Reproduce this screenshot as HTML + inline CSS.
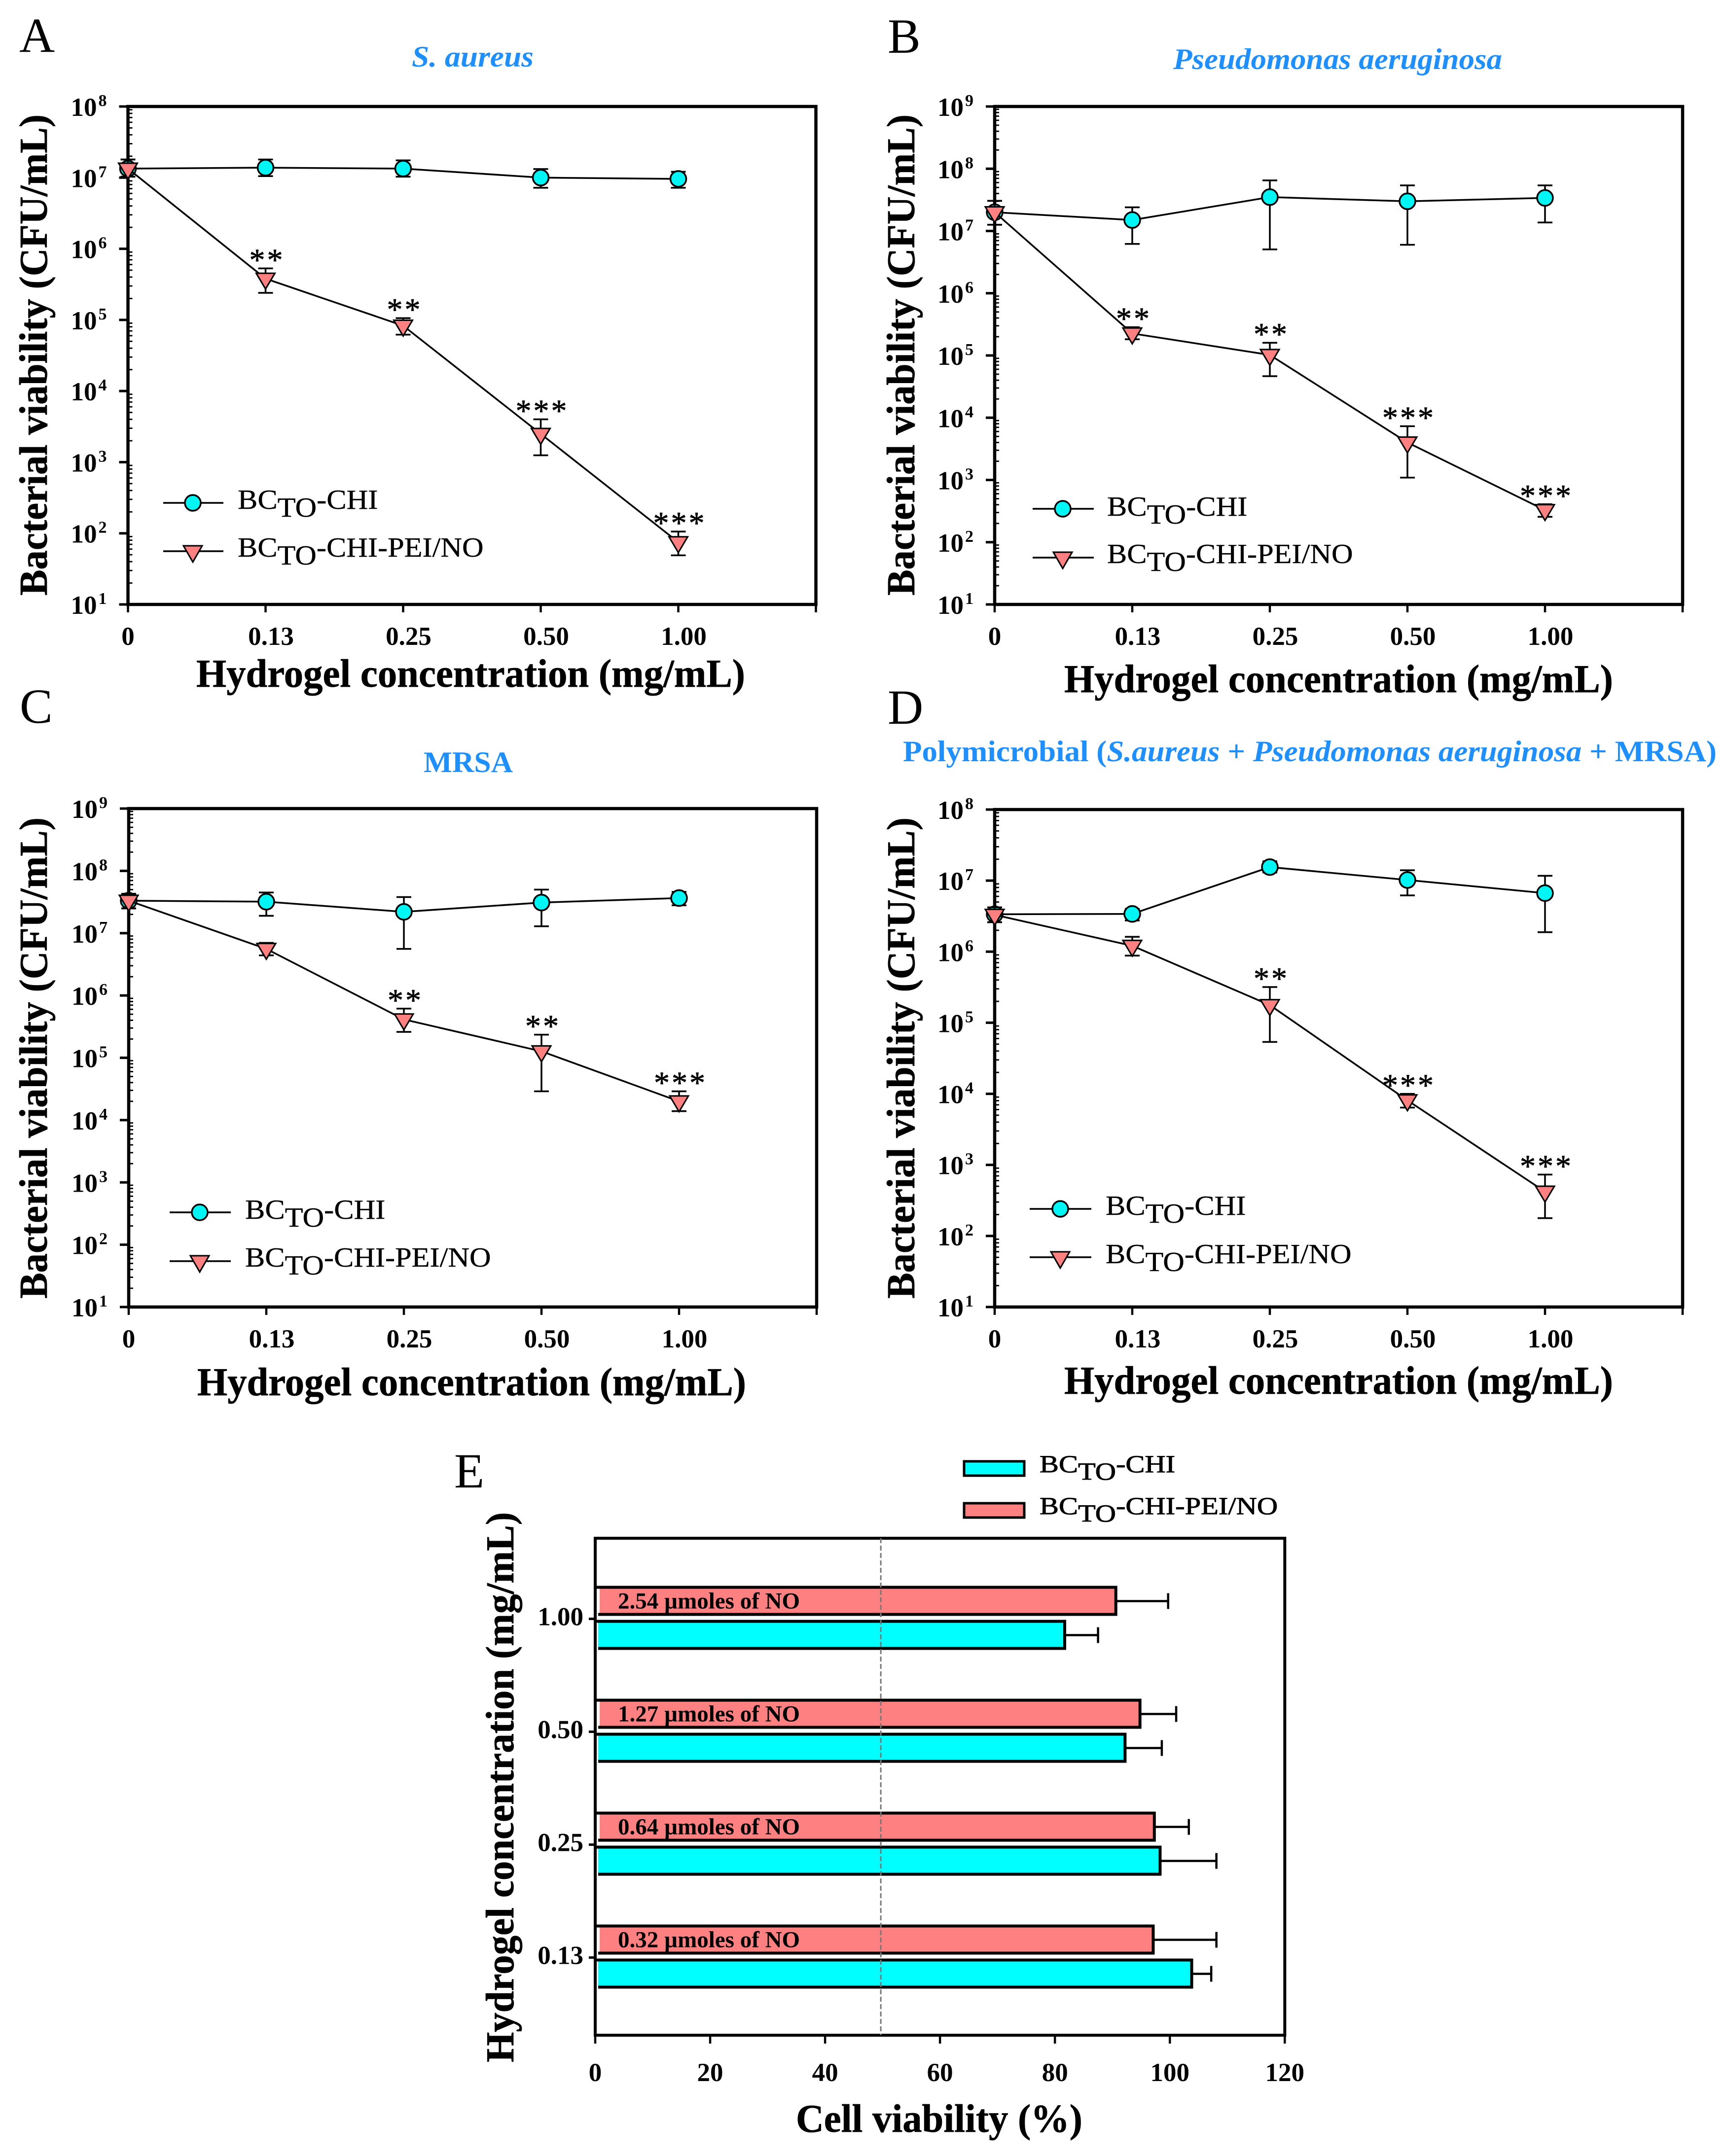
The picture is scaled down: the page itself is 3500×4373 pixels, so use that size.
<!DOCTYPE html>
<html lang="en">
<head>
<meta charset="utf-8">
<title>Bacterial and cell viability of hydrogels</title>
<style>
html,body{margin:0;padding:0;background:#fff}
svg{display:block}
text{font-family:"Liberation Serif","DejaVu Serif",serif;fill:#000}
.letter{font-size:100px}
.ptitle{font-size:60px;font-weight:bold;fill:#1e8fff}
.atitle{font-size:80px;font-weight:bold;stroke:#000;stroke-width:.7px}
.leg{font-size:56px;stroke:#000;stroke-width:.4px}
.legE{font-size:50px;stroke:#000;stroke-width:.9px}
.tick{font-size:53px;font-weight:bold}
.sup{font-size:34px;font-weight:bold}
.star{font-size:64px;letter-spacing:4px;stroke:#000;stroke-width:.8px}
.note{font-size:47px;font-weight:bold}
</style>
</head>
<body>
<svg id="fig" width="3500" height="4373" viewBox="0 0 3500 4373" xmlns="http://www.w3.org/2000/svg">
<rect width="3500" height="4373" fill="#fff"/>

<text class="letter" x="39" y="105">A</text>
<text class="letter" x="1800" y="107">B</text>
<text class="letter" x="40" y="1466">C</text>
<text class="letter" x="1800" y="1468">D</text>
<text class="letter" x="921" y="3017">E</text>

<text class="ptitle" x="835" y="135" textLength="247" lengthAdjust="spacingAndGlyphs" font-style="italic">S. aureus</text>
<text class="ptitle" x="2379" y="140" textLength="667" lengthAdjust="spacingAndGlyphs" font-style="italic">Pseudomonas aeruginosa</text>
<text class="ptitle" x="859" y="1566" textLength="181" lengthAdjust="spacingAndGlyphs">MRSA</text>
<text class="ptitle" x="1831" y="1544" textLength="1650" lengthAdjust="spacingAndGlyphs">Polymicrobial (<tspan font-style="italic">S.aureus</tspan> + <tspan font-style="italic">Pseudomonas aeruginosa</tspan> + MRSA)</text>

<text class="atitle" transform="translate(95,720) rotate(-90)" text-anchor="middle" textLength="976" lengthAdjust="spacingAndGlyphs">Bacterial viability (CFU/mL)</text>
<text class="atitle" transform="translate(1854,720) rotate(-90)" text-anchor="middle" textLength="976" lengthAdjust="spacingAndGlyphs">Bacterial viability (CFU/mL)</text>
<text class="atitle" transform="translate(95,2146) rotate(-90)" text-anchor="middle" textLength="976" lengthAdjust="spacingAndGlyphs">Bacterial viability (CFU/mL)</text>
<text class="atitle" transform="translate(1854,2146) rotate(-90)" text-anchor="middle" textLength="976" lengthAdjust="spacingAndGlyphs">Bacterial viability (CFU/mL)</text>
<text class="atitle" transform="translate(1041,3625) rotate(-90)" text-anchor="middle" textLength="1116" lengthAdjust="spacingAndGlyphs">Hydrogel concentration (mg/mL)</text>

<text class="atitle" x="398" y="1393" textLength="1113" lengthAdjust="spacingAndGlyphs">Hydrogel concentration (mg/mL)</text>
<text class="atitle" x="2158" y="1404" textLength="1113" lengthAdjust="spacingAndGlyphs">Hydrogel concentration (mg/mL)</text>
<text class="atitle" x="400" y="2830" textLength="1113" lengthAdjust="spacingAndGlyphs">Hydrogel concentration (mg/mL)</text>
<text class="atitle" x="2158" y="2827" textLength="1113" lengthAdjust="spacingAndGlyphs">Hydrogel concentration (mg/mL)</text>
<text class="atitle" x="1614" y="4324" textLength="581" lengthAdjust="spacingAndGlyphs">Cell viability (%)</text>

<!-- legend A -->
<g stroke="#000">
  <line x1="331" x2="453" y1="1020" y2="1020" stroke-width="3.5"/>
  <circle cx="391" cy="1020" r="16" fill="#00f5f5" stroke-width="3.5"/>
  <line x1="331" x2="453" y1="1118" y2="1118" stroke-width="3.5"/>
  <path d="M372,1107H410L391,1140Z" fill="#ff8080" stroke-width="3"/>
</g>
<text class="leg" transform="translate(482,1032) scale(1.08,1)">BC<tspan dy="16">TO</tspan><tspan dy="-16">-CHI</tspan></text>
<text class="leg" transform="translate(482,1129) scale(1.078,1)">BC<tspan dy="16">TO</tspan><tspan dy="-16">-CHI-PEI/NO</tspan></text>

<!-- legend B -->
<g stroke="#000">
  <line x1="2094" x2="2218" y1="1032" y2="1032" stroke-width="3.5"/>
  <circle cx="2155" cy="1032" r="16" fill="#00f5f5" stroke-width="3.5"/>
  <line x1="2094" x2="2218" y1="1131" y2="1131" stroke-width="3.5"/>
  <path d="M2136,1120H2174L2155,1153Z" fill="#ff8080" stroke-width="3"/>
</g>
<text class="leg" transform="translate(2245,1046) scale(1.08,1)">BC<tspan dy="16">TO</tspan><tspan dy="-16">-CHI</tspan></text>
<text class="leg" transform="translate(2245,1142) scale(1.078,1)">BC<tspan dy="16">TO</tspan><tspan dy="-16">-CHI-PEI/NO</tspan></text>

<!-- legend C -->
<g stroke="#000">
  <line x1="344" x2="468" y1="2459" y2="2459" stroke-width="3.5"/>
  <circle cx="405" cy="2459" r="16" fill="#00f5f5" stroke-width="3.5"/>
  <line x1="344" x2="468" y1="2558" y2="2558" stroke-width="3.5"/>
  <path d="M386,2547H424L405,2580Z" fill="#ff8080" stroke-width="3"/>
</g>
<text class="leg" transform="translate(497,2472) scale(1.08,1)">BC<tspan dy="16">TO</tspan><tspan dy="-16">-CHI</tspan></text>
<text class="leg" transform="translate(497,2569) scale(1.078,1)">BC<tspan dy="16">TO</tspan><tspan dy="-16">-CHI-PEI/NO</tspan></text>

<!-- legend D -->
<g stroke="#000">
  <line x1="2088" x2="2213" y1="2452" y2="2452" stroke-width="3.5"/>
  <circle cx="2150" cy="2452" r="16" fill="#00f5f5" stroke-width="3.5"/>
  <line x1="2088" x2="2213" y1="2550" y2="2550" stroke-width="3.5"/>
  <path d="M2131,2539H2169L2150,2572Z" fill="#ff8080" stroke-width="3"/>
</g>
<text class="leg" transform="translate(2242,2464) scale(1.08,1)">BC<tspan dy="16">TO</tspan><tspan dy="-16">-CHI</tspan></text>
<text class="leg" transform="translate(2242,2562) scale(1.078,1)">BC<tspan dy="16">TO</tspan><tspan dy="-16">-CHI-PEI/NO</tspan></text>

<!-- legend E -->
<rect x="1955" y="2964" width="122" height="29" fill="#00ffff" stroke="#000" stroke-width="5"/>
<rect x="1955" y="3049" width="122" height="29" fill="#ff8080" stroke="#000" stroke-width="5"/>
<text class="legE" transform="translate(2108,2986) scale(1.17,1)">BC<tspan dy="15">TO</tspan><tspan dy="-15">-CHI</tspan></text>
<text class="legE" transform="translate(2108,3071) scale(1.17,1)">BC<tspan dy="15">TO</tspan><tspan dy="-15">-CHI-PEI/NO</tspan></text>

<g id="plots"></g>
</svg>

<script>
// ---------- shared labels ----------
const xTickLabels = ['0', '0.13', '0.25', '0.50', '1.00'];

// ---------- Panel A: S. aureus ----------
const aExponents = [1, 2, 3, 4, 5, 6, 7, 8];
const aChi   = [1.34e7, 1.38e7, 1.34e7, 1.0e7, 9.6e6];
const aChiHi = [1.8e7, 1.8e7, 1.75e7, 1.32e7, 1.21e7];
const aChiLo = [1.03e7, 1.05e7, 1.03e7, 7.2e6, 7.2e6];
const aPei   = [1.34e7, 3.8e5, 8.3e4, 2.5e3, 75];
const aPeiHi = [1.8e7, 5.3e5, 1.06e5, 4.0e3, 106];
const aPeiLo = [1.03e7, 2.4e5, 6.2e4, 1.25e3, 49];
const aStars = ['', '**', '**', '***', '***'];

// ---------- Panel B: Pseudomonas aeruginosa ----------
const bExponents = [1, 2, 3, 4, 5, 6, 7, 8, 9];
const bChi   = [2.0e7, 1.5e7, 3.5e7, 3.0e7, 3.4e7];
const bChiHi = [3.05e7, 2.4e7, 6.5e7, 5.4e7, 5.4e7];
const bChiLo = [1.26e7, 6.2e6, 5.06e6, 6.0e6, 1.37e7];
const bPei   = [2.0e7, 2.26e5, 1.02e5, 4.0e3, 328];
const bPeiHi = [3.05e7, 2.85e5, 1.6e5, 7.3e3, 407];
const bPeiLo = [1.26e7, 1.82e5, 4.65e4, 1.09e3, 256];
const bStars = ['', '**', '**', '***', '***'];

// ---------- Panel C: MRSA ----------
const cExponents = [1, 2, 3, 4, 5, 6, 7, 8, 9];
const cChi   = [3.32e7, 3.2e7, 2.2e7, 3.1e7, 3.66e7];
const cChiHi = [4.3e7, 4.5e7, 3.8e7, 5.0e7, 4.6e7];
const cChiLo = [2.5e7, 1.9e7, 5.6e6, 1.29e7, 2.8e7];
const cPei   = [3.32e7, 5.6e6, 4.13e5, 1.27e5, 2.0e4];
const cPeiHi = [4.3e7, 7.0e6, 6.15e5, 2.35e5, 2.9e4];
const cPeiLo = [2.5e7, 4.4e6, 2.6e5, 2.9e4, 1.39e4];
const cStars = ['', '', '**', '**', '***'];

// ---------- Panel D: Polymicrobial ----------
const dExponents = [1, 2, 3, 4, 5, 6, 7, 8];
const dChi   = [3.36e6, 3.4e6, 1.55e7, 1.02e7, 6.67e6];
const dChiHi = [4.2e6, 4.0e6, 1.87e7, 1.4e7, 1.17e7];
const dChiLo = [2.6e6, 2.75e6, 1.3e7, 6.2e6, 1.88e6];
const dPei   = [3.3e6, 1.21e6, 1.77e5, 8.1e3, 420];
const dPeiHi = [4.2e6, 1.62e6, 3.18e5, 1.0e4, 731];
const dPeiLo = [2.6e6, 8.8e5, 5.37e4, 6.4e3, 178];
const dStars = ['', '', '**', '***', '***'];

// ---------- Panel E: cell viability ----------
const eCategories = ['0.13', '0.25', '0.50', '1.00'];
const eXTicks = [0, 20, 40, 60, 80, 100, 120];
const eChi    = [103.8, 98.3, 92.2, 81.7];
const eChiErr = [107.2, 108.1, 98.6, 87.5];
const ePei    = [97.1, 97.3, 94.8, 90.6];
const ePeiErr = [108.1, 103.3, 101.1, 99.7];
const eNotes  = ['0.32 µmoles of NO', '0.64 µmoles of NO', '1.27 µmoles of NO', '2.54 µmoles of NO'];
const eThreshold = 49.7;

const NS = 'http://www.w3.org/2000/svg';
const root = document.getElementById('plots');

function make(tag, attrs, parent) {
  const el = document.createElementNS(NS, tag);
  for (const k in attrs) el.setAttribute(k, attrs[k]);
  parent.appendChild(el);
  return el;
}

function drawSeries(g, prefix, xs, vals, hi, lo, isTriangle, yOf) {
  const s = make('g', {}, g);
  
  
  const line = make('polyline', {
    points: vals.map((v, i) => xs(i) + ',' + yOf(v)).join(' '),
    fill: 'none', stroke: '#000', 'stroke-width': 3.5
  }, s);
  
  
  vals.forEach((v, i) => {
    const x = xs(i);
    const err = make('path', {
      d: 'M' + (x - 15) + ',' + yOf(hi[i]) + 'H' + (x + 15) +
         'M' + x + ',' + yOf(hi[i]) + 'V' + yOf(lo[i]) +
         'M' + (x - 15) + ',' + yOf(lo[i]) + 'H' + (x + 15),
      fill: 'none', stroke: '#000', 'stroke-width': 3.5
    }, s);
    
    
  });
  vals.forEach((v, i) => {
    const x = xs(i), y = yOf(v);
    let m;
    if (isTriangle) {
      m = make('path', {
        d: 'M' + (x - 19) + ',' + (y - 11) + 'H' + (x + 19) + 'L' + x + ',' + (y + 21) + 'Z',
        fill: '#ff8080', stroke: '#000', 'stroke-width': 3
      }, s);
    } else {
      m = make('circle', { cx: x, cy: y, r: 16, fill: '#00f5f5', stroke: '#000', 'stroke-width': 3.5 }, s);
    }
    
    
  });
}

function logPanel(id, box, exponents, chi, chiHi, chiLo, pei, peiHi, peiLo, stars) {
  const g = make('g', {}, root);
  
  
  const minE = exponents[0], maxE = exponents[exponents.length - 1];
  const xs = i => box.left + i * (box.right - box.left) / 5;
  const yOf = v => box.bottom - (Math.log10(v) - minE) * (box.bottom - box.top) / (maxE - minE);

  const frame = make('rect', {
    x: box.left, y: box.top, width: box.right - box.left, height: box.bottom - box.top,
    fill: 'none', stroke: '#000', 'stroke-width': 6.5
  }, g);
  
  

  exponents.forEach(e => {
    const y = yOf(Math.pow(10, e));
    const t = make('line', { x1: box.left - 18, x2: box.left, y1: y, y2: y, stroke: '#000', 'stroke-width': 5 }, g);
    
    
    const lab = make('text', { class: 'tick', x: box.left - 63, y: y + 19, 'text-anchor': 'end' }, g);
    lab.textContent = '10';
    
    
    const sup = make('text', { class: 'sup', x: box.left - 60, y: y - 1 }, g);
    sup.textContent = String(e);
    
    
    if (e < maxE) {
      for (let k = 2; k <= 9; k++) {
        const ym = yOf(k * Math.pow(10, e));
        const mt = make('line', { x1: box.left, x2: box.left + 9, y1: ym, y2: ym, stroke: '#000', 'stroke-width': 2.8 }, g);
        
        
      }
    }
  });

  for (let i = 0; i <= 5; i++) {
    const x = xs(i);
    const t = make('line', { x1: x, x2: x, y1: box.bottom, y2: box.bottom + 16, stroke: '#000', 'stroke-width': 4.5 }, g);
    
    
  }
  xTickLabels.forEach((txt, i) => {
    const lab = make('text', { class: 'tick', x: xs(i) + (i === 0 ? 0 : 11), y: box.bottom + 82, 'text-anchor': 'middle' }, g);
    lab.textContent = txt;
    
    
  });

  drawSeries(g, id + '-chi', xs, chi, chiHi, chiLo, false, yOf);
  drawSeries(g, id + '-pei', xs, pei, peiHi, peiLo, true, yOf);

  stars.forEach((s, i) => {
    if (!s) return;
    const st = make('text', { class: 'star', x: xs(i) + 3, y: yOf(peiHi[i]) + 4, 'text-anchor': 'middle' }, g);
    st.textContent = s;
    
    
  });
}

logPanel('panel-a', { left: 259.5, right: 1654.5, top: 216, bottom: 1226 }, aExponents, aChi, aChiHi, aChiLo, aPei, aPeiHi, aPeiLo, aStars);
logPanel('panel-b', { left: 2017, right: 3412, top: 216, bottom: 1226 }, bExponents, bChi, bChiHi, bChiLo, bPei, bPeiHi, bPeiLo, bStars);
logPanel('panel-c', { left: 261, right: 1656, top: 1640, bottom: 2651 }, cExponents, cChi, cChiHi, cChiLo, cPei, cPeiHi, cPeiLo, cStars);
logPanel('panel-d', { left: 2017, right: 3412, top: 1642, bottom: 2651 }, dExponents, dChi, dChiHi, dChiLo, dPei, dPeiHi, dPeiLo, dStars);

// ---------- Panel E ----------
(function () {
  const box = { left: 1207, right: 2605.3, top: 3120, bottom: 4128 };
  const g = make('g', {}, root);
  
  
  const xOf = v => box.left + v * (box.right - box.left) / 120;
  const yOf = i => 3970.5 - i * 229;

  eCategories.forEach((c, i) => {
    const y = yOf(i);
    const peiFill = make('rect', { x: box.left + 9, y: y - 64, width: xOf(ePei[i]) - box.left - 9, height: 55, fill: '#ff8080' }, g);
    
    
    const peiEdge = make('path', {
      d: 'M' + (box.left + 3) + ',' + (y - 64) + 'H' + xOf(ePei[i]) + 'V' + (y - 9) + 'H' + (box.left + 6),
      fill: 'none', stroke: '#000', 'stroke-width': 6
    }, g);
    
    
    const peiErr = make('path', {
      d: 'M' + xOf(ePei[i]) + ',' + (y - 36) + 'H' + xOf(ePeiErr[i]) + 'M' + xOf(ePeiErr[i]) + ',' + (y - 52) + 'V' + (y - 20),
      fill: 'none', stroke: '#000', 'stroke-width': 4.5
    }, g);
    
    

    const chiFill = make('rect', { x: box.left + 6, y: y + 5, width: xOf(eChi[i]) - box.left - 6, height: 55, fill: '#00ffff' }, g);
    
    
    const chiEdge = make('path', {
      d: 'M' + (box.left + 3) + ',' + (y + 5) + 'H' + xOf(eChi[i]) + 'V' + (y + 60) + 'H' + (box.left + 6),
      fill: 'none', stroke: '#000', 'stroke-width': 6
    }, g);
    
    
    const chiErr = make('path', {
      d: 'M' + xOf(eChi[i]) + ',' + (y + 33) + 'H' + xOf(eChiErr[i]) + 'M' + xOf(eChiErr[i]) + ',' + (y + 17) + 'V' + (y + 49),
      fill: 'none', stroke: '#000', 'stroke-width': 4.5
    }, g);
    
    

    const note = make('text', { class: 'note', x: box.left + 46, y: y - 21 }, g);
    note.textContent = eNotes[i];
    
    

    const t = make('line', { x1: box.left - 13, x2: box.left, y1: y, y2: y, stroke: '#000', 'stroke-width': 5 }, g);
    
    
    const lab = make('text', { class: 'tick', x: box.left - 24, y: y + 13, 'text-anchor': 'end', 'font-size': 54 }, g);
    lab.textContent = c;
    
    
  });

  const frame = make('rect', {
    x: box.left, y: box.top, width: box.right - box.left, height: box.bottom - box.top,
    fill: 'none', stroke: '#000', 'stroke-width': 6
  }, g);
  
  

  const th = make('line', {
    x1: xOf(eThreshold), x2: xOf(eThreshold), y1: box.top, y2: box.bottom,
    stroke: '#777', 'stroke-width': 3, 'stroke-dasharray': '10 5'
  }, g);
  
  

  eXTicks.forEach(v => {
    const x = xOf(v);
    const t = make('line', { x1: x, x2: x, y1: box.bottom, y2: box.bottom + 17, stroke: '#000', 'stroke-width': 4.5 }, g);
    
    
    const lab = make('text', { class: 'tick', x: x, y: 4221, 'text-anchor': 'middle' }, g);
    lab.textContent = String(v);
    
    
  });
})();
</script>
</body>
</html>
